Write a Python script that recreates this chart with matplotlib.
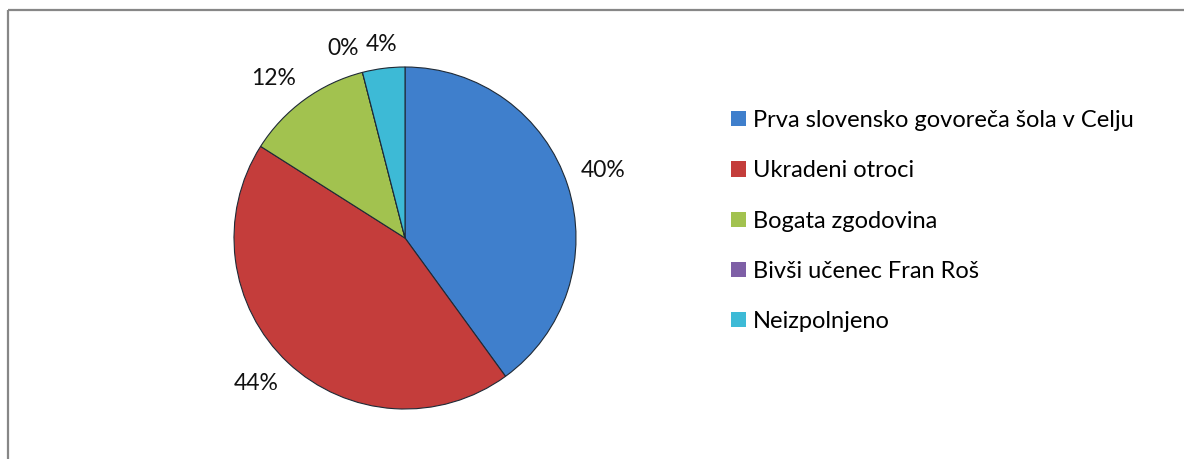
import numpy as np
import matplotlib.pyplot as plt
from matplotlib.patches import Patch

categories = ["Prva slovensko govoreča šola v Celju", "Ukradeni otroci",
              "Bogata zgodovina", "Bivši učenec Fran Roš", "Neizpolnjeno"]
values = [10, 11, 3, 0, 1]
colors = ["#3F7FCC", "#C43D3B", "#A2C24F", "#7E5FA6", "#3DBAD6"]

plt.rcParams["font.family"] = ["Lato", "DejaVu Sans"]

fig = plt.figure(figsize=(11.84, 4.59), dpi=100)
ax = fig.add_axes([0, 0, 1, 1])

# chart area frame (only top and left edges are in view)
ax.plot([8, 1184], [449, 449], color="#878787", lw=1.6, solid_capstyle="butt")
ax.plot([8, 8], [0, 449], color="#878787", lw=1.6, solid_capstyle="butt")

cx, cy, r = 405, 221, 171
wedges, _ = ax.pie(values, colors=colors, startangle=90, counterclock=False,
                   center=(cx, cy), radius=r, frame=True,
                   wedgeprops=dict(edgecolor="#1f2a36", linewidth=0.8))
ax.set_xlim(0, 1184)
ax.set_ylim(0, 459)
ax.set_aspect("auto")
ax.axis("off")

total = sum(values)
for w, v in zip(wedges, values):
    ang = np.deg2rad((w.theta1 + w.theta2) / 2)
    x = cx + 1.08 * r * np.cos(ang)
    y = cy + 1.08 * r * np.sin(ang)
    c = np.cos(ang)
    ha = "center" if abs(c) < 0.2 else ("left" if c > 0 else "right")
    va = "bottom" if np.sin(ang) > 0 else "top"
    ax.text(x, y, f"{v / total:.0%}", ha=ha, va=va, fontsize=16.5, color="#111111")

handles = [Patch(facecolor=c, edgecolor="none") for c in colors]
leg = fig.legend(handles, categories, loc="upper left", bbox_to_anchor=(731 / 1184, 1 - 110 / 459),
                 frameon=False, fontsize=17, labelspacing=1.24, handlelength=0.62,
                 handleheight=0.62, handletextpad=0.3, borderaxespad=0, borderpad=0)

fig.savefig("out.png", dpi=100)
